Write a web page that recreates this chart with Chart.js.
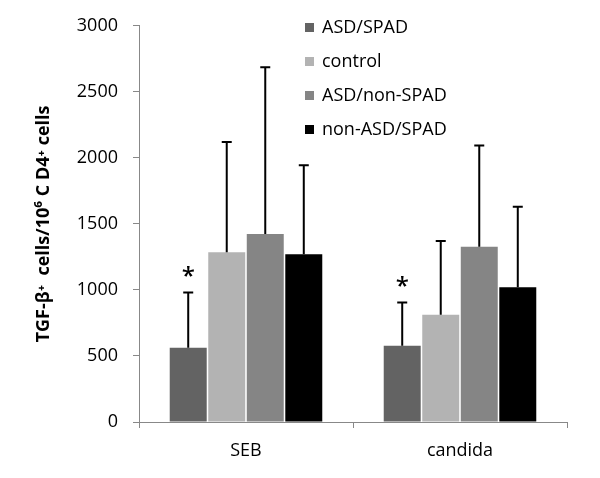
<!DOCTYPE html>
<html>
<head>
<meta charset="utf-8">
<script src="https://cdn.jsdelivr.net/npm/chart.js@4.4.1/dist/chart.umd.min.js"></script>
<style>
  html, body { margin: 0; padding: 0; background: #fff; }
  #wrap { width: 600px; height: 478px; }
</style>
</head>
<body>
<div id="wrap"><canvas id="tgfChart" width="600" height="478"></canvas></div>
<script>
// Daten
const categories = ['SEB', 'candida'];
const groups = ['ASD/SPAD', 'control', 'ASD/non-SPAD', 'non-ASD/SPAD'];
const groupColors = ['#636363', '#b3b3b3', '#858585', '#000000'];
const asdSpad = [562, 577];
const control = [1286, 813];
const asdNonSpad = [1423, 1327];
const nonAsdSpad = [1271, 1021];
const asdSpadSd = [418, 327];
const controlSd = [835, 557];
const asdNonSpadSd = [1263, 767];
const nonAsdSpadSd = [673, 609];
const significant = [true, false, false, false]; // asterisk per group
const yTicks = [0, 500, 1000, 1500, 2000, 2500, 3000];

const means = [asdSpad, control, asdNonSpad, nonAsdSpad];
const sds = [asdSpadSd, controlSd, asdNonSpadSd, nonAsdSpadSd];

const FONT = '"Open Sans", sans-serif';

// Fehlerbalken + Sternchen
const errorBars = {
  id: 'errorBars',
  afterDatasetsDraw(chart) {
    const { ctx, scales: { y } } = chart;
    ctx.save();
    chart.data.datasets.forEach((ds, i) => {
      const meta = chart.getDatasetMeta(i);
      meta.data.forEach((bar, j) => {
        const top = y.getPixelForValue(ds.data[j] + ds.sd[j]);
        const x = bar.x;
        ctx.strokeStyle = '#000';
        ctx.lineWidth = 2;
        ctx.beginPath();
        ctx.moveTo(x, bar.y);
        ctx.lineTo(x, top);
        ctx.moveTo(x - 5, top);
        ctx.lineTo(x + 5, top);
        ctx.stroke();
        if (ds.star) {
          ctx.fillStyle = '#000';
          ctx.font = '600 24px ' + FONT;
          ctx.textAlign = 'center';
          ctx.textBaseline = 'alphabetic';
          ctx.fillText('*', x, top - 9);
        }
      });
    });
    ctx.restore();
  }
};

// Legende im Diagramm
const innerLegend = {
  id: 'innerLegend',
  afterDraw(chart) {
    const { ctx } = chart;
    ctx.save();
    ctx.font = '18px ' + FONT;
    ctx.textBaseline = 'middle';
    ctx.textAlign = 'left';
    chart.data.datasets.forEach((ds, i) => {
      const yy = 28 + i * 34;
      ctx.fillStyle = ds.backgroundColor;
      ctx.fillRect(305, yy - 5, 9, 9);
      ctx.fillStyle = '#000';
      ctx.fillText(ds.label, 322, yy);
    });
    ctx.restore();
  }
};

const ctx = document.getElementById('tgfChart').getContext('2d');

new Chart(ctx, {
  type: 'bar',
  data: {
    labels: categories,
    datasets: groups.map((g, i) => ({
      label: g,
      data: means[i],
      sd: sds[i],
      star: significant[i],
      backgroundColor: groupColors[i],
      borderWidth: 0,
      categoryPercentage: 0.72,
      barPercentage: 0.96
    }))
  },
  options: {
    responsive: false,
    animation: false,
    layout: { padding: { top: 17, right: 33, left: 0, bottom: 0 } },
    plugins: {
      legend: { display: false },
      tooltip: { enabled: false }
    },
    scales: {
      x: {
        grid: { display: true, offset: true, drawOnChartArea: false, drawTicks: true, tickLength: 6, color: '#888' },
        border: { color: '#888', width: 1 },
        ticks: { color: '#000', font: { family: FONT, size: 18 }, padding: 12 },
        afterFit(scale) { scale.height = 56; }
      },
      y: {
        min: 0,
        max: 3000,
        afterBuildTicks(scale) { scale.ticks = yTicks.map(v => ({ value: v })); },
        grid: { display: true, drawOnChartArea: false, drawTicks: true, tickLength: 6, color: '#888' },
        border: { color: '#888', width: 1 },
        ticks: { color: '#000', font: { family: FONT, size: 18 }, padding: 15, callback: v => String(v) },
        title: {
          display: true,
          text: 'TGF-β⁺  cells/10⁶ C D4⁺ cells',
          color: '#000',
          font: { family: FONT, size: 18, weight: 'bold' },
          padding: { top: 33, bottom: 0 }
        },
        afterFit(scale) { scale.width = 139; }
      }
    }
  },
  plugins: [errorBars, innerLegend]
});
</script>
</body>
</html>
